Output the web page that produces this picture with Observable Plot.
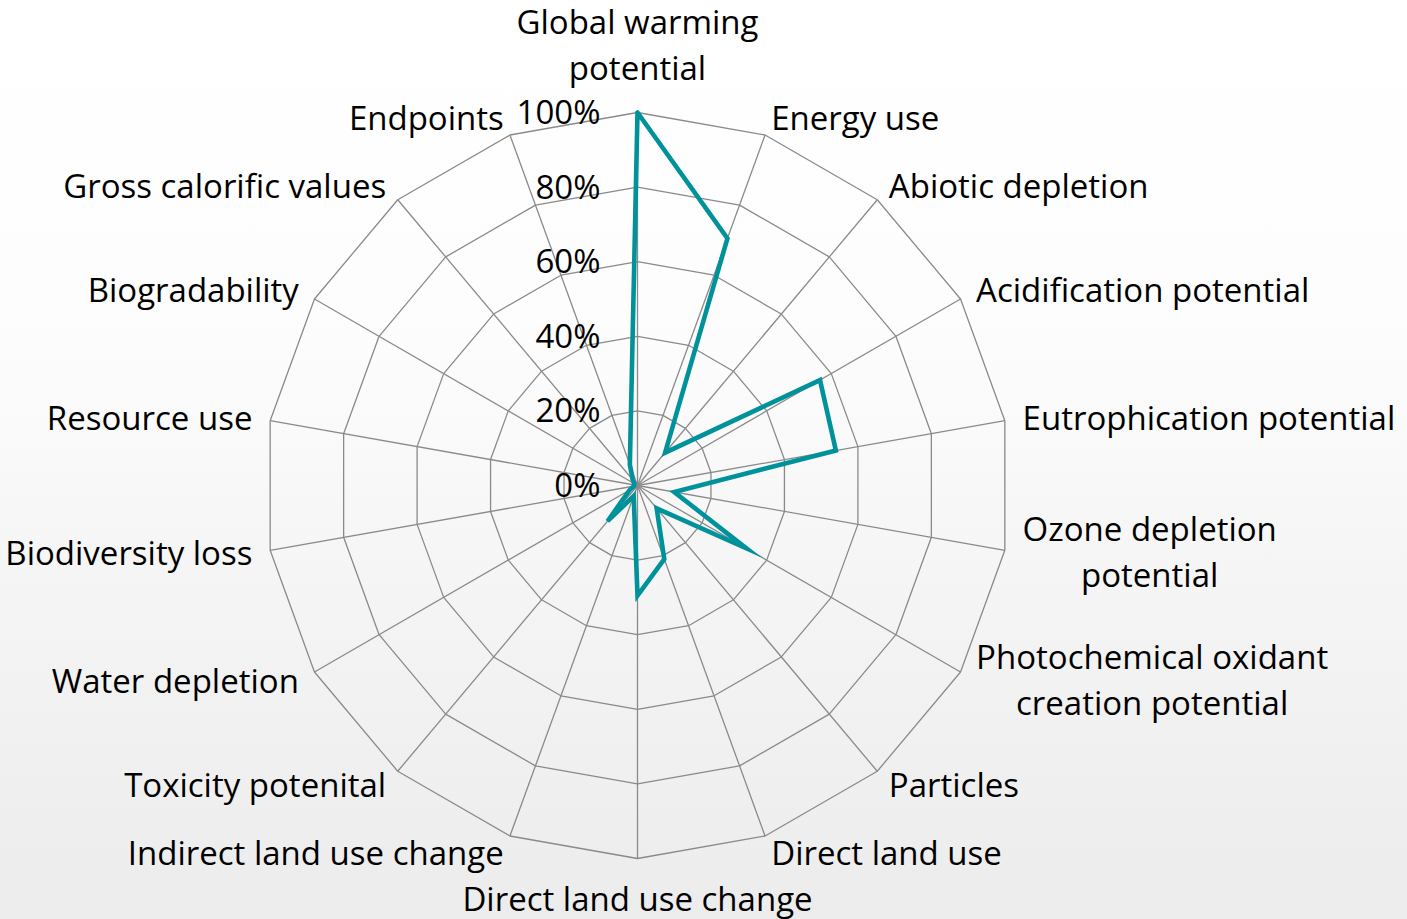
<!DOCTYPE html>
<html><head><meta charset="utf-8">
<script src="https://cdn.jsdelivr.net/npm/d3@7"></script>
<script src="https://cdn.jsdelivr.net/npm/@observablehq/plot@0.6"></script>
<style>
html,body{margin:0;padding:0;}
body{width:1407px;height:919px;overflow:hidden;background:linear-gradient(180deg,#ffffff 0%,#fdfdfd 35%,#f3f3f3 70%,#ececec 100%);}
#chart svg{display:block;}
</style></head><body><div id="chart"></div>
<script>
// ---- data ----
const categories = [
  "Global warming\npotential",
  "Energy use",
  "Abiotic depletion",
  "Acidification potential",
  "Eutrophication potential",
  "Ozone depletion\npotential",
  "Photochemical oxidant\ncreation potential",
  "Particles",
  "Direct land use",
  "Direct land use change",
  "Indirect land use change",
  "Toxicity potenital",
  "Water depletion",
  "Biodiversity loss",
  "Resource use",
  "Biogradability",
  "Gross calorific values",
  "Endpoints"
];
const values = [100, 70.5, 11.5, 56.5, 54, 10, 33.7, 8, 21, 29.5, 3, 12.5, 2.5, 1, 1, 1, 2, 6];
const ringLevels = [20, 40, 60, 80, 100];
const tickValues = [0, 20, 40, 60, 80, 100];
const tickLabels = ["0%", "20%", "40%", "60%", "80%", "100%"];

// ---- layout ----
const W = 1407, H = 919;
const CX = 637, CY = 485, K = 3.73; // px per percent
const FONT = "'Open Sans', 'Noto Sans', sans-serif";
const FS = 33;
const LH = 1.39;
const N = categories.length;
const ang = i => i * 2 * Math.PI / N;
const pt = (i, v) => ({x: v * Math.sin(ang(i)), y: v * Math.cos(ang(i))});

const spokes = categories.map((c, i) => ({c, ...pt(i, 100)}));
const rings = ringLevels.flatMap(l => d3.range(N + 1).map(j => ({level: l, ...pt(j % N, l)})));
const series = d3.range(N + 1).map(j => ({c: categories[j % N], v: values[j % N], ...pt(j % N, values[j % N])}));
const ticks = tickValues.map((v, i) => ({x: 0, y: v, label: tickLabels[i]}));

const ctx = document.createElement("canvas").getContext("2d");
ctx.font = `${FS}px ${FONT}`;
const textW = s => Math.max(...s.split("\n").map(l => ctx.measureText(l).width));

const OFF = 18 / K;
const labels = categories.map((c, i) => {
  const deg = i * 360 / N;
  const a = ang(i);
  const side = deg === 0 ? "top" : deg === 180 ? "bottom" : deg < 180 ? "right" : "left";
  const r = side === "top" || side === "bottom" ? 100 : 100 + OFF;
  const multi = c.includes("\n");
  let x = r * Math.sin(a), y = r * Math.cos(a);
  if (multi && side === "right") x += textW(c) / 2 / K;
  return {c, x, y, side, multi};
});

const common = {fontFamily: FONT, fontSize: FS, fill: "#000"};

const chart = Plot.plot({
  width: W, height: H,
  margin: 0,
  x: {domain: [-CX / K, (W - CX) / K], axis: null},
  y: {domain: [-(H - CY) / K, CY / K], axis: null},
  style: {background: "transparent", fontFamily: FONT, overflow: "visible"},
  marks: [
    Plot.link(spokes, {x1: 0, y1: 0, x2: "x", y2: "y", stroke: "#8a8a8a", strokeWidth: 1.3}),
    Plot.line(rings, {x: "x", y: "y", z: "level", stroke: "#8a8a8a", strokeWidth: 1.3}),
    Plot.line(series, {x: "x", y: "y", stroke: "#00929b", strokeWidth: 4.6, strokeLinejoin: "miter", strokeMiterlimit: 10}),
    Plot.text(ticks, {x: "x", y: "y", text: "label", textAnchor: "end", lineAnchor: "middle", dx: -37, dy: 1, ...common}),
    Plot.text(labels.filter(d => d.side === "top"), {x: "x", y: "y", text: "c", textAnchor: "middle", lineAnchor: "bottom", lineHeight: LH, dy: -33, ...common}),
    Plot.text(labels.filter(d => d.side === "bottom"), {x: "x", y: "y", text: "c", textAnchor: "middle", lineAnchor: "top", dy: 29, ...common}),
    Plot.text(labels.filter(d => d.side === "right" && !d.multi), {x: "x", y: "y", text: "c", textAnchor: "start", lineAnchor: "middle", dy: 1.5, ...common}),
    Plot.text(labels.filter(d => d.side === "right" && d.multi), {x: "x", y: "y", text: "c", textAnchor: "middle", lineAnchor: "middle", lineHeight: LH, dy: -4, ...common}),
    Plot.text(labels.filter(d => d.side === "left"), {x: "x", y: "y", text: "c", textAnchor: "end", lineAnchor: "middle", dy: 1.5, ...common})
  ]
});
document.getElementById("chart").appendChild(chart);
</script>
</body></html>
